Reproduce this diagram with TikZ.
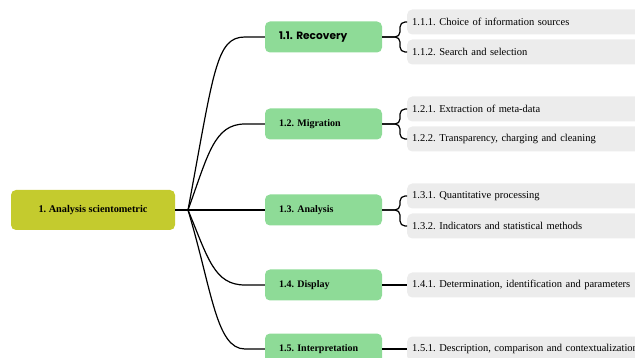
\documentclass[tikz,border=0pt]{standalone}
\usepackage{fontspec}
\setmainfont{Liberation Serif}
\newfontfamily\popfont{Poppins}
\definecolor{rootc}{HTML}{C4CB2E}
\definecolor{lvlc}{HTML}{8EDB97}
\definecolor{leafc}{HTML}{ECECEC}
\tikzset{
  rootbox/.style={fill=rootc, rounded corners=5pt, minimum width=164pt, minimum height=40pt, font=\fontsize{10.3}{12}\selectfont\bfseries},
  lvlbox/.style={fill=lvlc, rounded corners=5pt, minimum height=31pt, inner xsep=14pt, text width=89pt, align=left, font=\fontsize{10}{12}\selectfont\bfseries},
  leafbox/.style={fill=leafc, rounded corners=5pt, anchor=west, minimum height=25pt, inner xsep=5pt, text width=260pt, align=left, font=\fontsize{10.5}{12}\selectfont},
  link/.style={draw=black, line width=1.2pt},
}
\begin{document}
\frenchspacing
\begin{tikzpicture}[x=1pt,y=-1pt]
\useasboundingbox (0,0) rectangle (635,358);
\clip (0,0) rectangle (635,358);
% root
\node[rootbox] (root) at (93,210) {1. Analysis scientometric};
\coordinate (J) at (188,210);
% level 1
\node[lvlbox] (r) at (323.5,37) {\popfont\fontsize{10.6}{12}\selectfont 1.1. Recovery};
\node[lvlbox] (m) at (323.5,124) {1.2. Migration};
\node[lvlbox] (a) at (323.5,210) {1.3. Analysis};
\node[lvlbox] (d) at (323.5,285) {1.4. Display};
\node[lvlbox] (i) at (323.5,349) {1.5. Interpretation};
% leaves
\node[leafbox] (r1) at (407,22) {1.1.1. Choice of information sources};
\node[leafbox] (r2) at (407,52) {1.1.2. Search and selection};
\node[leafbox] (m1) at (407,109) {1.2.1. Extraction of meta-data};
\node[leafbox] (m2) at (407,139) {1.2.2. Transparency, charging and cleaning};
\node[leafbox] (a1) at (407,196) {1.3.1. Quantitative processing};
\node[leafbox] (a2) at (407,226) {1.3.2. Indicators and statistical methods};
\node[leafbox] (d1) at (407,285) {1.4.1. Determination, identification and parameters};
\node[leafbox] (i1) at (407,349) {1.5.1. Description, comparison and contextualization};
% connectors root
\draw[link] (root.east) -- (J);
\draw[link] (J) .. controls (214,70) and (216,37) .. (245,37) -- (r.west);
\draw[link] (J) .. controls (208,155) and (214,124) .. (245,124) -- (m.west);
\draw[link] (J) -- (a.west);
\draw[link] (J) .. controls (208,258) and (214,285) .. (245,285) -- (d.west);
\draw[link] (J) .. controls (212,290) and (216,349) .. (245,349) -- (i.west);
% brackets
\foreach \p/\q/\y in {r/r1/37, r/r2/37, m/m1/124, m/m2/124, a/a1/210, a/a2/210}{
  \draw[link, rounded corners=5pt] (\p.east) -- (400,\y) |- (\q.west);
}
\draw[link] (d.east) -- (d1.west);
\draw[link] (i.east) -- (i1.west);
\end{tikzpicture}
\end{document}
